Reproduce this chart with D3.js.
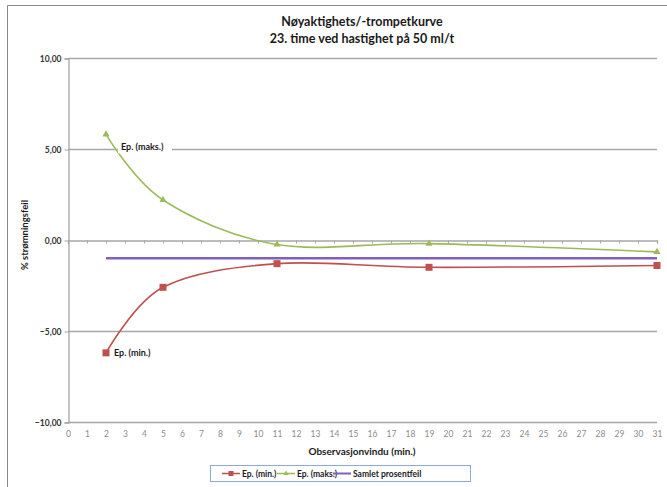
<!DOCTYPE html>
<html><head><meta charset="utf-8">
<script src="https://cdn.jsdelivr.net/npm/d3@7"></script>
<style>body{margin:0;background:#fff}svg{display:block;font-family:Lato,"Open Sans",sans-serif}</style>
</head><body><svg id="c" width="667" height="487"></svg>
<script>
const xValues = [2, 5, 11, 19, 31];
const epMin = [-6.2, -2.6, -1.3, -1.5, -1.4];
const epMaks = [5.8, 2.2, -0.25, -0.2, -0.65];
const samletX = [2, 31];
const samlet = [-1.0, -1.0];
const yTicks = [10, 5, 0, -5, -10];
const xTicks = d3.range(0, 32);
const seriesNames = ["Ep. (min.)", "Ep. (maks.)", "Samlet prosentfeil"];
const colors = ["#c0504d", "#9bbb59", "#7f5fbf"];

const svg = d3.select("#c");
const x = d3.scaleLinear().domain([0, 31]).range([68, 657]);
const y = d3.scaleLinear().domain([-10, 10]).range([422, 58]);

// outer border
svg.append("path").attr("d", "M7.5,487 V5.5 H667").attr("fill", "none").attr("stroke", "#888").attr("stroke-width", 1);

// title
svg.append("text").attr("x", 362).attr("y", 26).attr("text-anchor", "middle").attr("font-weight", "bold").attr("font-size", 12.5).attr("fill", "#1a1a1a").text("Nøyaktighets/-trompetkurve");
svg.append("text").attr("x", 362).attr("y", 43).attr("text-anchor", "middle").attr("font-weight", "bold").attr("font-size", 12.5).attr("fill", "#1a1a1a").text("23. time ved hastighet på 50 ml/t");

// gridlines
svg.append("g").selectAll("line").data(yTicks.filter(d => d !== 0)).join("line")
  .attr("x1", x(0)).attr("x2", x(31)).attr("y1", d => y(d) + 0.5).attr("y2", d => y(d) + 0.5)
  .attr("stroke", "#a6a6a6").attr("stroke-width", 1.3);

// y axis
const yAxis = d3.axisLeft(y).tickValues(yTicks).tickSize(4).tickFormat(d => d3.format(".2f")(d).replace(".", ","));
const gy = svg.append("g").attr("transform", `translate(${x(0) + 0.5},0.5)`).call(yAxis);
gy.select(".domain").attr("stroke", "#a6a6a6").attr("stroke-width", 1.3);
gy.selectAll(".tick line").attr("stroke", "#a6a6a6");
gy.selectAll(".tick text").attr("font-size", 8.5).attr("font-weight", "bold").attr("fill", "#333").attr("font-family", "Lato, sans-serif");

// x axis at zero, ticks downward, no labels
const xAxis0 = d3.axisBottom(x).tickValues(xTicks).tickSize(3).tickFormat("");
const gx0 = svg.append("g").attr("transform", `translate(0,${y(0) + 0.5})`).call(xAxis0);
gx0.select(".domain").attr("stroke", "#a6a6a6").attr("stroke-width", 1.3);
gx0.selectAll(".tick line").attr("stroke", "#a6a6a6");

// x tick labels at bottom
const xAxisLbl = d3.axisBottom(x).tickValues(xTicks).tickSize(0).tickPadding(9);
const gxl = svg.append("g").attr("transform", `translate(0,${y(-10)})`).call(xAxisLbl);
gxl.select(".domain").remove();
gxl.selectAll(".tick text").attr("font-size", 8.5).attr("fill", "#8c8c8c").attr("font-family", "Lato, sans-serif");

// axis titles
svg.append("text").attr("x", 362).attr("y", 455).attr("text-anchor", "middle").attr("font-weight", "bold").attr("font-size", 10).attr("fill", "#1a1a1a").text("Observasjonvindu (min.)");
svg.append("text").attr("transform", "translate(28,235) rotate(-90)").attr("text-anchor", "middle").attr("font-weight", "bold").attr("font-size", 9.5).attr("fill", "#1a1a1a").text("% strømningsfeil");

// series
const curve = d3.curveCardinal.tension(0);
const line = d3.line().x(d => x(d[0])).y(d => y(d[1])).curve(curve);
const minPts = xValues.map((v, i) => [v, epMin[i]]);
const maksPts = xValues.map((v, i) => [v, epMaks[i]]);
const samPts = samletX.map((v, i) => [v, samlet[i]]);

svg.append("path").datum(samPts).attr("d", d3.line().x(d => x(d[0])).y(d => y(d[1]))).attr("fill", "none").attr("stroke", colors[2]).attr("stroke-width", 2.5);
svg.append("path").datum(maksPts).attr("d", line).attr("fill", "none").attr("stroke", colors[1]).attr("stroke-width", 1.6);
svg.append("path").datum(minPts).attr("d", line).attr("fill", "none").attr("stroke", colors[0]).attr("stroke-width", 1.6);

svg.append("g").selectAll("rect").data(minPts).join("rect")
  .attr("x", d => x(d[0]) - 3.5).attr("y", d => y(d[1]) - 3.5).attr("width", 7).attr("height", 7).attr("fill", colors[0]);
const tri = d3.symbol().type(d3.symbolTriangle).size(22);
svg.append("g").selectAll("path").data(maksPts).join("path")
  .attr("transform", d => `translate(${x(d[0])},${y(d[1])})`).attr("d", tri).attr("fill", colors[1]);

// data labels
const lblMaks = svg.append("g").attr("transform", `translate(${x(xValues[0]) + 15},${y(epMaks[0]) + 13})`);
lblMaks.append("rect").attr("x", -3).attr("y", -7).attr("width", 54).attr("height", 13).attr("fill", "#fff");
lblMaks.append("text").attr("y", 3).attr("font-size", 9).attr("font-weight", "bold").attr("fill", "#1a1a1a").text(seriesNames[1]);
svg.append("text").attr("x", x(xValues[0]) + 8).attr("y", y(epMin[0]) + 3).attr("font-size", 9).attr("font-weight", "bold").attr("fill", "#1a1a1a").text(seriesNames[0]);

// legend
const lg = svg.append("g");
lg.append("rect").attr("x", 210.5).attr("y", 465.5).attr("width", 260).attr("height", 16).attr("fill", "#fff").attr("stroke", "#8fa8d8").attr("stroke-width", 1);
const lx = [222, 277, 333];
seriesNames.forEach((n, i) => {
  const g = lg.append("g").attr("transform", `translate(${lx[i]},473.5)`);
  g.append("line").attr("x1", 0).attr("x2", 18).attr("stroke", colors[i]).attr("stroke-width", i === 2 ? 2 : 1.5);
  if (i === 0) g.append("rect").attr("x", 6.5).attr("y", -2.5).attr("width", 5).attr("height", 5).attr("fill", colors[0]);
  if (i === 1) g.append("path").attr("transform", "translate(9,0)").attr("d", d3.symbol().type(d3.symbolTriangle).size(12)).attr("fill", colors[1]);
  g.append("text").attr("x", 20).attr("y", 3).attr("font-size", 8.5).attr("font-weight", "bold").attr("fill", "#1a1a1a").text(n);
});
</script></body></html>
